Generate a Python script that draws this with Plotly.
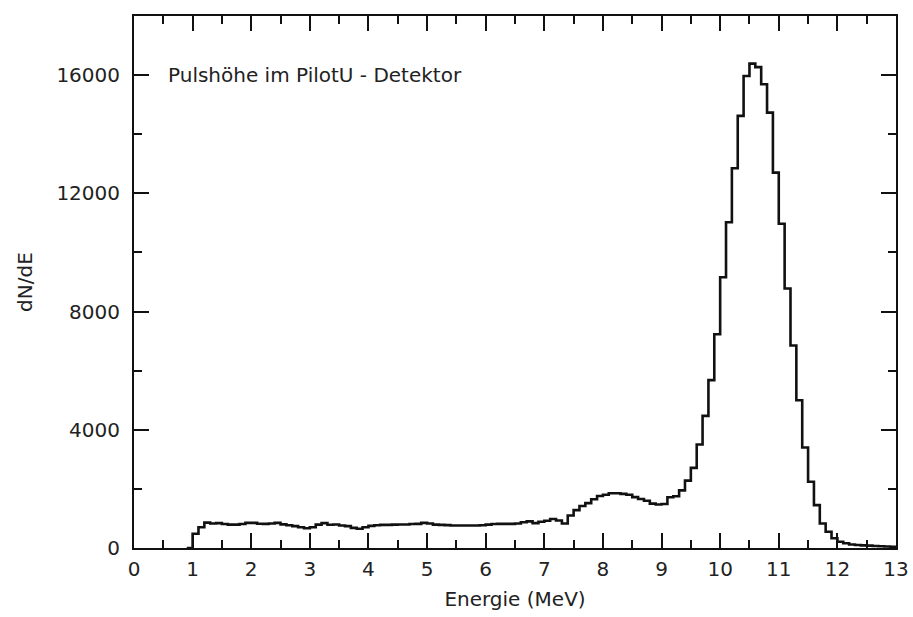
import plotly.graph_objects as go

# Histogram bin left edges (MeV), bin width 0.1 MeV
bin_start = 0.9
bin_width = 0.1
counts = [
    0,                                                        # 0.9
    480, 700, 860, 830, 840, 810, 790, 790, 810, 850,         # 1.0-1.9
    850, 820, 817, 830, 850, 800, 770, 740, 700, 670,         # 2.0-2.9
    700, 790, 840, 785, 795, 760, 740, 680, 650, 700,         # 3.0-3.9
    750, 770, 783, 783, 790, 794, 794, 810, 817, 850,         # 4.0-4.9
    830, 790, 783, 775, 760, 760, 760, 760, 760, 770,         # 5.0-5.9
    790, 810, 817, 817, 817, 830, 870, 900, 840, 890,         # 6.0-6.9
    920, 980, 930, 830, 1100, 1280, 1420, 1520, 1650, 1760,   # 7.0-7.9
    1800, 1850, 1850, 1830, 1800, 1720, 1660, 1600, 1500, 1470,  # 8.0-8.9
    1490, 1715, 1750, 1950, 2280, 2710, 3500, 4470, 5680, 7230,  # 9.0-9.9
    9160, 11020, 12850, 14620, 15970, 16390, 16270, 15690, 14730, 12700,  # 10.0-10.9
    10970, 8780, 6850, 5000, 3400, 2240, 1450, 830, 550, 330,  # 11.0-11.9
    210, 160, 120, 100, 90, 80, 70, 60, 50, 40,               # 12.0-12.9
]

x_ticks = list(range(0, 14))
y_ticks = [0, 4000, 8000, 12000, 16000]

edges = [round(bin_start + i * bin_width, 2) for i in range(len(counts) + 1)]
ys = counts + [counts[-1]]

fig = go.Figure()
fig.add_trace(go.Scatter(
    x=edges, y=ys, mode="lines", line_shape="hv",
    line=dict(color="#111111", width=2.6), showlegend=False,
    hoverinfo="skip",
))

font_family = "DejaVu Sans"
axis_common = dict(
    showgrid=False, zeroline=False, showline=True, linecolor="#111111",
    linewidth=2, mirror="allticks", ticks="inside", ticklen=15, tickwidth=2,
    tickcolor="#111111", automargin=False,
    tickfont=dict(family=font_family, size=20, color="#222222"),
)

fig.update_xaxes(
    range=[0, 13], tickvals=x_ticks, ticktext=[str(v) for v in x_ticks],
    minor=dict(dtick=0.5, tick0=0, ticks="inside", ticklen=8, tickwidth=2,
               tickcolor="#111111"),
    title=dict(text="Energie (MeV)", font=dict(family=font_family, size=20, color="#222222"),
               standoff=12),
    ticklabelstandoff=2,
    **axis_common,
)
fig.update_yaxes(
    range=[0, 18000], tickvals=y_ticks, ticktext=[str(v) for v in y_ticks],
    minor=dict(dtick=2000, tick0=0, ticks="inside", ticklen=8, tickwidth=2,
               tickcolor="#111111"),
    title=dict(text="dN/dE", font=dict(family=font_family, size=20, color="#222222"),
               standoff=18),
    ticklabelstandoff=8,
    **axis_common,
)

fig.add_annotation(
    text="Pulshöhe im PilotU - Detektor", xref="paper", yref="paper",
    x=0.042, y=0.89, xanchor="left", yanchor="middle", showarrow=False,
    font=dict(family=font_family, size=20, color="#222222"),
)

fig.update_layout(
    width=913, height=617,
    margin=dict(l=134, r=17, t=16, b=69),
    paper_bgcolor="white", plot_bgcolor="white",
)

fig.write_html("out.html")
